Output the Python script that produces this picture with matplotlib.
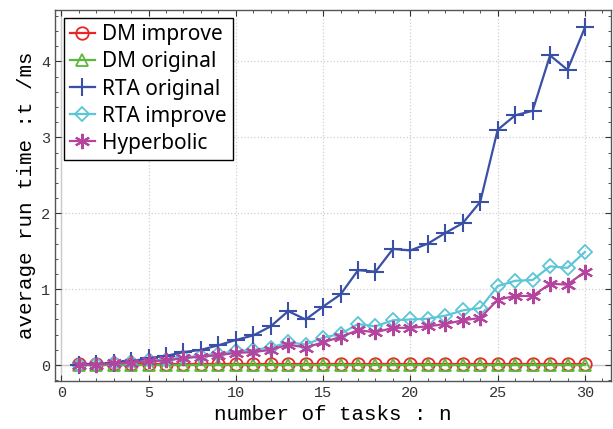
import matplotlib
matplotlib.use("Agg")
import matplotlib.pyplot as plt
from matplotlib.ticker import MultipleLocator

n_tasks = list(range(1, 31))

dm_improve = [0.01] * 30
dm_original = [0.005] * 30

rta_original = [0.0, 0.01, 0.03, 0.05, 0.09, 0.12, 0.17, 0.20, 0.26, 0.33,
                0.39, 0.51, 0.71, 0.60, 0.77, 0.93, 1.25, 1.23, 1.53, 1.51,
                1.60, 1.74, 1.87, 2.15, 3.10, 3.29, 3.35, 4.08, 3.89, 4.45]

rta_improve = [0.0, 0.01, 0.02, 0.04, 0.06, 0.07, 0.10, 0.12, 0.15, 0.18,
               0.20, 0.23, 0.30, 0.27, 0.36, 0.41, 0.54, 0.51, 0.59, 0.60,
               0.61, 0.65, 0.72, 0.75, 1.04, 1.11, 1.12, 1.30, 1.28, 1.49]

hyperbolic = [0.0, 0.005, 0.02, 0.03, 0.05, 0.06, 0.09, 0.11, 0.13, 0.16,
              0.17, 0.20, 0.27, 0.23, 0.30, 0.37, 0.46, 0.43, 0.49, 0.49,
              0.51, 0.54, 0.59, 0.62, 0.86, 0.91, 0.91, 1.07, 1.06, 1.23]

fig = plt.figure(figsize=(6.13, 4.29), dpi=100)
ax = fig.add_axes([0.09, 0.112, 0.907, 0.865])

mono = "Liberation Mono"

ax.axhline(0, color="#c8c8c8", lw=1.0, zorder=0)
ax.axvline(0, color="#c8c8c8", lw=1.0, zorder=0)

ax.plot(n_tasks, dm_improve, color="#e8262a", marker="o", ms=9, mfc="none",
        mew=1.3, lw=1.6, label="DM improve", zorder=3)
ax.plot(n_tasks, dm_original, color="#5cb83a", marker="^", ms=8, mfc="none",
        mew=1.3, lw=1.6, label="DM original", zorder=4)
ax.plot(n_tasks, rta_original, color="#3a4fa6", marker="+", ms=13, mew=1.5,
        lw=1.6, label="RTA original", zorder=5)
ax.plot(n_tasks, rta_improve, color="#5bc6d8", marker="D", ms=7, mfc="none",
        mew=1.3, lw=1.6, label="RTA improve", zorder=4)
ax.plot(n_tasks, hyperbolic, color="#b5449e", marker=(6, 2, 0), ms=11,
        mew=1.5, lw=1.6, label="Hyperbolic", zorder=5)

ax.set_xlim(-0.35, 31.5)
ax.set_ylim(-0.21, 4.68)
ax.xaxis.set_major_locator(MultipleLocator(5))
ax.xaxis.set_minor_locator(MultipleLocator(1))
ax.yaxis.set_major_locator(MultipleLocator(1))
ax.yaxis.set_minor_locator(MultipleLocator(0.2))

ax.grid(True, which="major", color="#d0d0d0", linestyle=":", lw=0.9)
ax.tick_params(which="both", direction="in", top=True, right=True,
               labelsize=11, colors="#333333")
ax.tick_params(which="major", length=4)
ax.tick_params(which="minor", length=2)
for lab in ax.get_xticklabels() + ax.get_yticklabels():
    lab.set_fontfamily(mono)

for sp in ax.spines.values():
    sp.set_color("#555555")
    sp.set_linewidth(1.0)

ax.set_xlabel("number of tasks : n", fontsize=15, family=mono, labelpad=4)
ax.set_ylabel("average run time :t /ms", fontsize=15, family=mono, labelpad=4)

leg = ax.legend(loc="upper left", frameon=True, fancybox=False,
                edgecolor="black", framealpha=1, handlelength=1.2,
                handletextpad=0.35, borderpad=0.3, labelspacing=0.29,
                borderaxespad=0.4,
                prop={"family": "Noto Sans", "size": 15})
leg.get_frame().set_linewidth(1.0)

fig.savefig("out.png", dpi=100)
